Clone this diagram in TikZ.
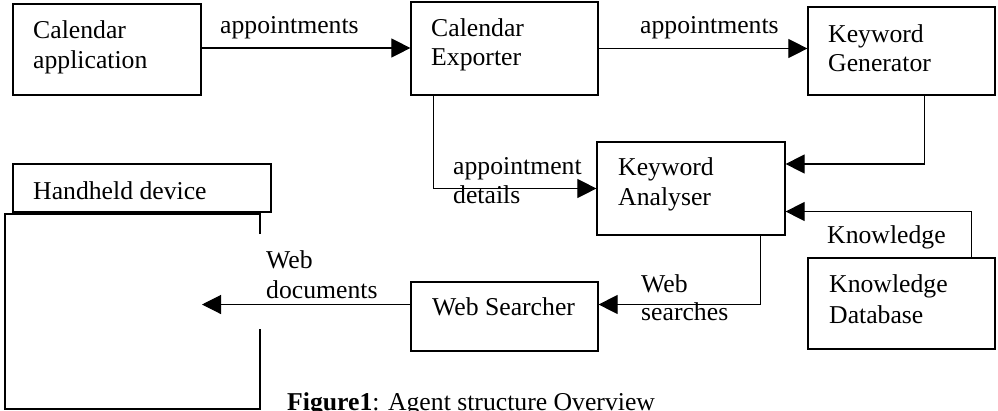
\documentclass[tikz,border=0pt]{standalone}
\usepackage{fontspec}
\setmainfont{Liberation Serif}
\usetikzlibrary{arrows.meta}
\tikzset{
  box/.style={draw, line width=1.2pt, inner sep=0pt, rectangle},
  txt/.style={anchor=base west, inner sep=0pt, font=\fontsize{25.7}{30}\selectfont},
  arr/.style={draw, line width=1.1pt, -{Triangle[length=19pt,width=19pt]}},
  ln/.style={draw, line width=1.2pt}
}
\begin{document}
\begin{tikzpicture}[x=1pt,y=-1pt]
\useasboundingbox (0,0) rectangle (998,410);
% boxes
\node[box, minimum width=188pt, minimum height=91pt] (ca) at (107,49.5) {};
\node[box, minimum width=187pt, minimum height=93pt] (ce) at (504.5,48.5) {};
\node[box, minimum width=187pt, minimum height=88pt] (kg) at (901.5,51) {};
\node[box, minimum width=188pt, minimum height=93pt] (ka) at (691,188.5) {};
\node[box, minimum width=187pt, minimum height=91pt] (kd) at (901.5,303.5) {};
\node[box, minimum width=187pt, minimum height=69pt] (ws) at (504.5,316.5) {};
\node[box, minimum width=258pt, minimum height=48pt] (hl) at (142,188) {};
% handheld device body with opening
\draw[ln] (260,234) -- (260,214) -- (5,214) -- (5,409) -- (260,409) -- (260,329);
\coordinate (hdin) at (202,304.5);
% box texts
\node[txt] (t1) at (33,38) {Calendar};
\node[txt] (t2) at (33,68) {application};
\node[txt] (t3) at (431,36) {Calendar};
\node[txt] (t4) at (431,65) {Exporter};
\node[txt] (t5) at (828,42) {Keyword};
\node[txt] (t6) at (828,71) {Generator};
\node[txt] (t7) at (618,175) {Keyword};
\node[txt] (t8) at (618,205) {Analyser};
\node[txt] (t9) at (829,292) {Knowledge};
\node[txt] (t10) at (829,323) {Database};
\node[txt] (t11) at (432,315) {Web Searcher};
\node[txt] (t12) at (33,199) {Handheld device};
% connectors
\draw[arr] ([yshift=1.5pt]ca.east) -- ([yshift=1.5pt]ca.east -| ce.west);
\draw[arr] (ce.east) -- (kg.west |- ce.east);
\draw[arr] ([xshift=23pt]ce.south west) |- (ka.west);
\draw[arr] ([xshift=117pt]kg.south west) |- ([yshift=24.5pt]ka.east);
\draw[arr] ([xshift=164pt]kd.north west) |- ([yshift=-23pt]ka.east);
\draw[arr] ([xshift=164pt]ka.south west) |- ([yshift=12pt]ws.east);
\draw[arr] ([yshift=12pt]ws.west) -- (hdin);
% connector labels
\node[txt] (l1) at (220,33) {appointments};
\node[txt] (l2) at (640,33) {appointments};
\node[txt] (l3) at (453,174) {appointment};
\node[txt] (l4) at (453,203) {details};
\node[txt] (l5) at (827,243) {Knowledge};
\node[txt] (l6) at (641,292) {Web};
\node[txt] (l7) at (641,320) {searches};
\node[txt] (l8) at (266,268) {Web};
\node[txt] (l9) at (266,298) {documents};
% caption
\node[txt] (cap) at (287,410) {\textbf{Figure1}: Agent structure Overview};
\end{tikzpicture}
\end{document}
